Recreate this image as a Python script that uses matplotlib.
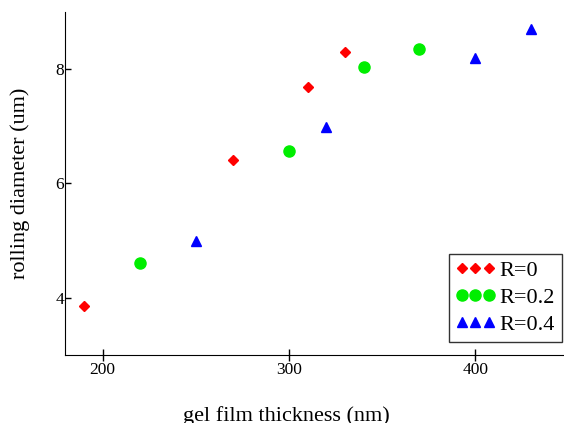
import matplotlib
matplotlib.use("Agg")
import matplotlib.pyplot as plt

plt.rcParams['font.family'] = ['Liberation Serif', 'DejaVu Serif']

x_r0 = [190, 270, 310, 330]
y_r0 = [3.86, 6.41, 7.68, 8.30]

x_r02 = [220, 300, 340, 370]
y_r02 = [4.60, 6.57, 8.04, 8.35]

x_r04 = [250, 320, 400, 430]
y_r04 = [5.00, 6.98, 8.19, 8.70]

fig = plt.figure(figsize=(5.64, 4.23), dpi=100)
ax = fig.add_axes([0.116, 0.161, 0.882, 0.811])

ax.plot(x_r0, y_r0, 'D', color='#ff0000', markersize=5, linestyle='none', label='R=0')
ax.plot(x_r02, y_r02, 'o', color='#00ee00', markersize=8, linestyle='none', label='R=0.2')
ax.plot(x_r04, y_r04, '^', color='#0000ff', markersize=6.5, linestyle='none', label='R=0.4')

ax.set_xlim(180, 447)
ax.set_ylim(3, 9)
ax.set_xticks([200, 300, 400])
ax.set_yticks([4, 6, 8])
ax.spines['top'].set_visible(False)
ax.spines['right'].set_visible(False)
ax.tick_params(axis='x', direction='inout', length=8, width=1, labelsize=12.5, pad=1)
ax.tick_params(axis='y', direction='in', length=4.5, width=1, labelsize=12.5, pad=1)
for lbl in ax.get_yticklabels():
    lbl.set_verticalalignment('center_baseline')

ax.set_xlabel('gel film thickness (nm)', fontsize=16)
ax.xaxis.set_label_coords(0.445, -0.15)
ax.set_ylabel('rolling diameter (um)', fontsize=16)
ax.yaxis.set_label_coords(-0.072, 0.5)

leg = ax.legend(loc='lower right', bbox_to_anchor=(0.998, 0.038), numpoints=3,
                fontsize=16, frameon=True, fancybox=False, edgecolor='black',
                handlelength=1.8, handletextpad=0.2, borderpad=0.3,
                labelspacing=0.3, borderaxespad=0)
leg.get_frame().set_linewidth(1.0)

fig.savefig('out.png', dpi=100)
